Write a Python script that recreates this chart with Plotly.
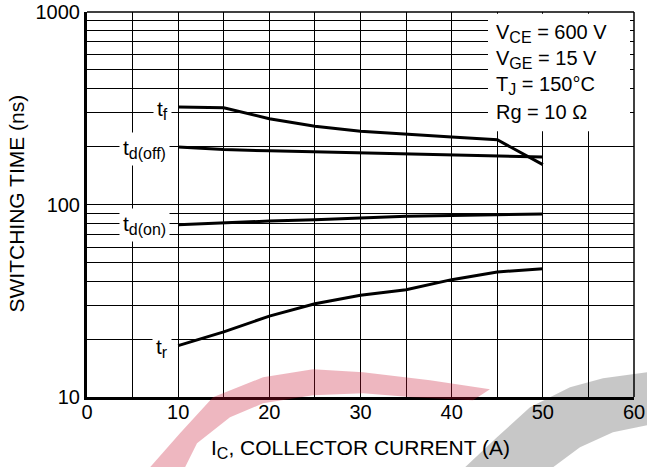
import plotly.graph_objects as go

# ---- data ----
ic = [10, 15, 20, 25, 30, 35, 40, 45, 50]
t_f = [321, 318, 279, 255, 240, 231, 224, 217, 161]
t_doff = [199, 193, 190, 187.5, 185, 183, 180, 178.6, 176.5]
t_don = [78.6, 80.5, 82, 83.4, 85.4, 86.9, 87.6, 88.2, 89.3]
t_r = [18.5, 21.8, 26.3, 30.5, 33.8, 36.1, 40.7, 44.6, 46.4]

x_ticks = [0, 10, 20, 30, 40, 50, 60]
x_minor = [5, 15, 25, 35, 45, 55]
y_ticks = [10, 100, 1000]
y_ticktext = ["10", "100", "1000"]
y_minor = [20, 30, 40, 50, 60, 70, 80, 90, 200, 300, 400, 500, 600, 700, 800, 900]

SUB = "<sub><span style='font-size:16px'>{}</span></sub>"
curve_labels = ["t" + SUB.format("f"), "t" + SUB.format("d(off)"),
                "t" + SUB.format("d(on)"), "t" + SUB.format("r")]
conditions = ["V" + SUB.format("CE") + " = 600 V", "V" + SUB.format("GE") + " = 15 V",
              "T" + SUB.format("J") + " = 150°C", "Rg = 10 Ω"]

FONT = "Liberation Sans, Arial, sans-serif"
W, H = 647, 467
PX0, PX1, PY0, PY1 = 87, 634, 11.7, 396.7   # plot area in window pixels
L, R, T, B = PX0, W - PX1, PY0, H - PY1
PW, PH = PX1 - PX0, PY1 - PY0


def px2paper(px, py):
    return (px - PX0) / PW, (PY1 - py) / PH


fig = go.Figure()
for ys in [t_f, t_doff, t_don, t_r]:
    fig.add_trace(go.Scatter(x=ic, y=ys, mode="lines",
                             line=dict(color="black", width=3), showlegend=False,
                             hoverinfo="skip"))

# conditions box (white, hides the grid behind the text)
bx0, by0 = px2paper(488, 131)
bx1, by1 = px2paper(630, 13.5)
fig.add_shape(type="rect", xref="paper", yref="paper", x0=bx0, y0=by0, x1=bx1, y1=by1,
              fillcolor="white", line=dict(width=0), layer="above")

# curve labels (x data, log10 y, right-anchored)
label_pos = [(9.33, 2.489), (9.11, 2.287), (9.11, 1.892), (9.33, 1.256)]
for txt, (lx, ly) in zip(curve_labels, label_pos):
    fig.add_annotation(x=lx, y=ly, xref="x", yref="y", text=txt, showarrow=False,
                       xanchor="right", yanchor="middle", bgcolor="white", borderpad=3,
                       font=dict(family=FONT, size=21, color="black"))

for i, txt in enumerate(conditions):
    cx, cy = px2paper(494, 33 + 26.3 * i)
    fig.add_annotation(x=cx, y=cy, xref="paper", yref="paper", text=txt, showarrow=False,
                       xanchor="left", yanchor="middle",
                       font=dict(family=FONT, size=20, color="black"))

# top and right border
fig.add_shape(type="line", xref="paper", yref="paper", x0=0, x1=1, y0=1, y1=1,
              line=dict(color="black", width=1.5), layer="above")
fig.add_shape(type="line", xref="paper", yref="paper", x0=1, x1=1, y0=0, y1=1,
              line=dict(color="black", width=1.5), layer="above")

# axis titles
tx, ty = px2paper(360, 449)
fig.add_annotation(x=tx, y=ty, xref="paper", yref="paper", showarrow=False,
                   text="I" + SUB.format("C") + ", COLLECTOR CURRENT (A)",
                   xanchor="center", yanchor="middle",
                   font=dict(family=FONT, size=21, color="black"))
tx, ty = px2paper(16.7, 203.5)
fig.add_annotation(x=tx, y=ty, xref="paper", yref="paper", showarrow=False,
                   text="SWITCHING TIME (ns)", textangle=-90, xanchor="center", yanchor="middle",
                   font=dict(family=FONT, size=21, color="black"))

# watermark swooshes (decorative)
def path_from(points):
    pts = [px2paper(a, b) for a, b in points]
    return "M " + " L ".join(f"{a:.4f},{b:.4f}" for a, b in pts) + " Z"

pink = [(150, 467), (180, 433), (213, 397), (263, 377), (313, 369), (363, 372), (430, 380),
        (490, 389), (473, 400), (413, 397), (363, 393), (313, 395), (263, 403), (230, 417),
        (197, 443), (185, 467)]
gray = [(465, 467), (497, 437), (530, 407), (570, 387), (603, 378), (647, 372),
        (647, 425), (613, 432), (580, 447), (553, 467)]
fig.add_shape(type="path", xref="paper", yref="paper", path=path_from(pink),
              fillcolor="rgba(200,16,46,0.3)", line=dict(width=0), layer="above")
fig.add_shape(type="path", xref="paper", yref="paper", path=path_from(gray),
              fillcolor="rgba(0,0,0,0.22)", line=dict(width=0), layer="above")

fig.update_xaxes(range=[0, 60], tickvals=x_ticks, automargin=False,
                 showgrid=True, gridcolor="black", gridwidth=1, zeroline=False,
                 minor=dict(tickvals=x_minor, showgrid=True, gridcolor="black", gridwidth=1, ticks=""),
                 showline=True, linecolor="black", linewidth=3, ticks="",
                 ticklabeloverflow="allow",
                 tickfont=dict(family=FONT, size=20, color="black"), ticklabelstandoff=-5)
fig.update_yaxes(type="log", range=[1, 3], tickvals=y_ticks, ticktext=y_ticktext, automargin=False,
                 showgrid=True, gridcolor="black", gridwidth=1, zeroline=False,
                 minor=dict(tickvals=y_minor, showgrid=True, gridcolor="black", gridwidth=1, ticks=""),
                 showline=True, linecolor="black", linewidth=3, ticks="",
                 ticklabeloverflow="allow",
                 tickfont=dict(family=FONT, size=20, color="black"), ticklabelstandoff=0)

fig.update_layout(width=W, height=H, margin=dict(l=L, r=R, t=T, b=B, autoexpand=False),
                  paper_bgcolor="white", plot_bgcolor="white", showlegend=False,
                  hovermode=False)

fig.write_html("out.html", config={"displayModeBar": False},
               post_script="document.body.style.margin='0';document.body.style.overflow='hidden';")
